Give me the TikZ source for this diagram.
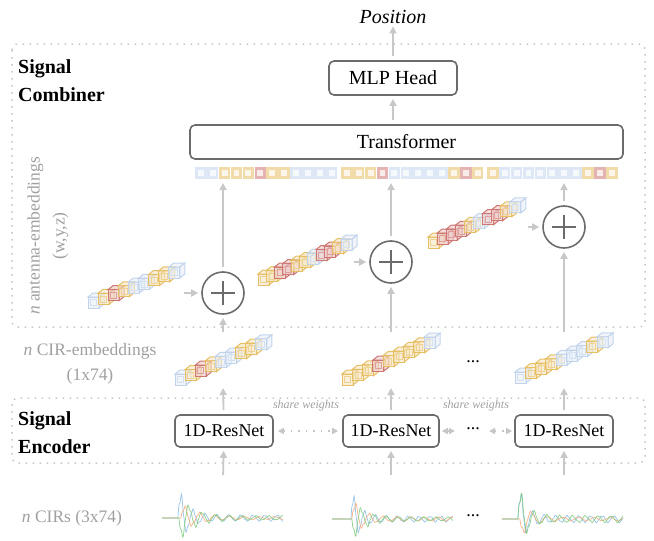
\documentclass[tikz,border=0pt]{standalone}
\usepackage{fontspec}
\setmainfont{Liberation Serif}
\usepackage{tikz}
\usetikzlibrary{arrows.meta}
\definecolor{boxgray}{HTML}{6B6B6B}
\definecolor{arrowgray}{HTML}{C8C8C8}
\definecolor{labelgray}{HTML}{A0A0A0}
\definecolor{dotgray}{HTML}{C6C6C6}
\definecolor{embblue}{HTML}{C2D4EC}
\definecolor{embyellow}{HTML}{E6BF63}
\definecolor{embred}{HTML}{CF7773}
\definecolor{cirblue}{HTML}{8DBDE6}
\definecolor{cirorange}{HTML}{F6A97A}
\definecolor{cirgreen}{HTML}{7FCB7F}

\tikzset{
  block/.style={draw=boxgray, line width=1.6pt, rounded corners=5pt, fill=white, inner sep=0pt},
  flow/.style={draw=arrowgray, line width=1.8pt, shorten <=4pt, shorten >=3pt, -{Triangle[length=7pt,width=7pt]}},
  share/.style={draw=dotgray, line width=1.5pt, dash pattern=on 1.5pt off 6pt, shorten <=4pt, shorten >=4pt,
    {Triangle[length=6pt,width=6pt]}-{Triangle[length=6pt,width=6pt]}},
  dotbox/.style={draw=dotgray, line width=1.5pt, dash pattern=on 1.5pt off 5.5pt, rounded corners=6pt},
  addnode/.style={circle, draw=boxgray, line width=1.6pt, minimum size=42, inner sep=0pt,
    path picture={\draw[boxgray, line width=1.6pt]
      ([xshift=-12pt]path picture bounding box.center) -- ([xshift=12pt]path picture bounding box.center)
      ([yshift=-12pt]path picture bounding box.center) -- ([yshift=12pt]path picture bounding box.center);}},
  lbl/.style={text=labelgray, font=\fontsize{17.5}{25}\selectfont, align=center},
  pics/cube/.style={code={
    \draw[draw=#1, fill=#1!40!white, fill opacity=0.6, line width=1pt] (0,0) rectangle (11,-11);
    \draw[draw=#1, fill=#1!40!white, fill opacity=0.6, line width=1pt] (0,-11) -- (5,-15) -- (16,-15) -- (11,-11) -- cycle;
    \draw[draw=#1, fill=#1!40!white, fill opacity=0.6, line width=1pt] (11,0) -- (16,-4) -- (16,-15) -- (11,-11) -- cycle;
    \draw[draw=#1!70!white, line width=0.5pt] (2.5,-2.5) rectangle (8.5,-8.5);}}
}

% front bottom-left x, y, step x, step y, colours
\newcommand{\cubechain}[5]{%
  \foreach \c [count=\i from 0] in {#5} {
    \pic at ({#1+\i*#3},{#2+\i*#4}) {cube=\c};
  }}
% first x, colours of one strip group
\newcommand{\stripgroup}[2]{%
  \foreach \c [count=\i from 0] in {#2} {
    \fill[fill=\c!55!white] ({#1+\i*11.9},167) rectangle ++(11.5,11.5);
    \fill[fill=\c!14!white] ({#1+2.8+\i*11.9},169.8) rectangle ++(5.9,5.9);
  }}
% x0, y0, spike offset, colour, amplitude, frequency, decay
\newcommand{\cirwave}[7]{%
  \draw[#4, line width=0.75pt, opacity=0.85] plot[domain=0:121, samples=300, variable=\t]
    ({#1+\t},{#2-(\t>#3)*#5*(exp(-(\t-#3)/#7)+0.1)*sin(#6*(\t-#3))*(0.8+0.2*cos(3.1*#6*(\t-#3)))});}

\begin{document}
\begin{tikzpicture}[x=1pt, y=-1pt, every node/.style={inner sep=0pt}]
  \useasboundingbox (0,0) rectangle (654,541);

  \draw[dotbox] (12,44) rectangle (645,327);
  \draw[dotbox] (12,398) rectangle (645,463);
  \node[font=\bfseries\fontsize{20}{28}\selectfont, align=left, anchor=north west] (comb) at (18,59) {Signal\\Combiner};
  \node[font=\bfseries\fontsize{20}{28}\selectfont, align=left, anchor=north west] (enc) at (18,411) {Signal\\Encoder};

  \node[font=\itshape\fontsize{20}{24}\selectfont, anchor=base] (pos) at (393,23) {Position};
  \node[block, minimum width=128, minimum height=34, font=\fontsize{20}{24}\selectfont] (mlp) at (393,78) {MLP Head};
  \node[block, minimum width=433, minimum height=34, font=\fontsize{20}{24}\selectfont] (trf) at (406.5,142) {Transformer};
  \draw[flow] (mlp) -- (pos);
  \draw[flow] (mlp.south |- trf.north) -- (mlp.south);

  % token strip
  \stripgroup{195}{embblue,embblue,embyellow,embyellow,embyellow,embred,embyellow,embyellow,embblue,embblue,embblue,embblue}
  \stripgroup{341}{embyellow,embyellow,embyellow,embred,embblue,embblue,embblue,embblue,embblue,embyellow,embred,embyellow}
  \stripgroup{487}{embyellow,embblue,embblue,embblue,embblue,embblue,embblue,embblue,embyellow,embred,embyellow}

  % antenna embeddings
  \cubechain{88}{308}{10.1}{-3.75}{embblue,embyellow,embred,embyellow,embblue,embblue,embyellow,embyellow,embblue}
  \cubechain{258}{285}{8.3}{-3.5}{embyellow,embyellow,embred,embred,embyellow,embyellow,embblue,embred,embred,embyellow,embblue}
  \cubechain{428}{248}{9.1}{-3.9}{embyellow,embred,embred,embred,embyellow,embblue,embred,embred,embyellow,embblue}

  \node[addnode] (add1) at (223,293) {};
  \node[addnode] (add2) at (391,262) {};
  \node[addnode] (add3) at (564,227) {};
  \coordinate (a1) at (180,293);
  \coordinate (a2) at (350,262);
  \coordinate (a3) at (524,227);
  \draw[flow] (a1) -- (add1);
  \draw[flow] (a2) -- (add2);
  \draw[flow] (a3) -- (add3);
  \foreach \n/\x in {1/223,2/391,3/564} {
    \coordinate (t\n) at (\x,180);
    \coordinate (b\n) at (\x,336);
    \draw[flow] (add\n) -- (t\n);
    \draw[flow] (b\n) -- (add\n);
  }

  % CIR embeddings
  \node[lbl, anchor=base] (emblbl) at (90,380) {\textit{n} CIR-embeddings\\(1x74)};
  \node[lbl, rotate=90] (antlbl) at (48,236) {\fontsize{17.5}{20}\selectfont\textit{n} antenna-embeddings\\(w,y,z)};
  \cubechain{175}{385}{10.1}{-4.4}{embblue,embyellow,embred,embyellow,embblue,embblue,embyellow,embyellow,embblue}
  \cubechain{342}{385}{10.25}{-4.6}{embyellow,embyellow,embyellow,embred,embyellow,embyellow,embyellow,embyellow,embblue}
  \cubechain{515}{383}{10.25}{-4.4}{embblue,embyellow,embyellow,embyellow,embblue,embblue,embblue,embyellow,embblue}
  \node[anchor=base, font=\fontsize{18}{20}\selectfont] (dots1) at (473,362) {...};

  % encoders
  \node[block, minimum width=98, minimum height=32, font=\fontsize{18}{22}\selectfont] (res1) at (224,431) {1D-ResNet};
  \node[block, minimum width=96, minimum height=32, font=\fontsize{18}{22}\selectfont] (res2) at (391,431) {1D-ResNet};
  \node[block, minimum width=98, minimum height=32, font=\fontsize{18}{22}\selectfont] (res3) at (564,431) {1D-ResNet};
  \node[anchor=base, font=\fontsize{18}{20}\selectfont] (dots2) at (473,429) {...};
  \coordinate (s1) at (457,431);
  \coordinate (s2) at (487,431);
  \draw[share] (res1) -- (res2);
  \draw[share, shorten <=2pt, shorten >=2pt] (res2) -- (s1);
  \draw[share, shorten <=2pt, shorten >=2pt] (s2) -- (res3);
  \node[font=\itshape\fontsize{12}{14}\selectfont, text=labelgray, anchor=base] (sw1) at (306,408) {share weights};
  \node[font=\itshape\fontsize{12}{14}\selectfont, text=labelgray, anchor=base] (sw2) at (476,408) {share weights};
  \foreach \n/\x in {1/223,2/391,3/564} {
    \coordinate (e\n) at (\x,385);
    \coordinate (w\n) at (\x,479);
    \draw[flow] (res\n) -- (e\n);
    \draw[flow] (w\n) -- (res\n);
  }

  % CIRs
  \node[lbl, anchor=base] (cirlbl) at (72,522) {\textit{n} CIRs (3x74)};
  \cirwave{162}{518}{16}{cirblue}{33}{30}{9}
  \cirwave{162}{518}{19}{cirorange}{15}{24}{16}
  \cirwave{162}{518}{17}{cirgreen}{-24}{27}{14}
  \cirwave{332}{519}{19}{cirblue}{32}{33}{8}
  \cirwave{332}{519}{20}{cirorange}{22}{26}{10}
  \cirwave{332}{519}{20}{cirgreen}{-22}{29}{12}
  \cirwave{502}{519}{16}{cirblue}{38}{31}{7}
  \cirwave{502}{519}{18}{cirorange}{-20}{23}{10}
  \cirwave{502}{519}{16}{cirgreen}{38}{28}{8}
  \node[anchor=base, font=\fontsize{18}{20}\selectfont] (dots3) at (473,516) {...};
\end{tikzpicture}
\end{document}
